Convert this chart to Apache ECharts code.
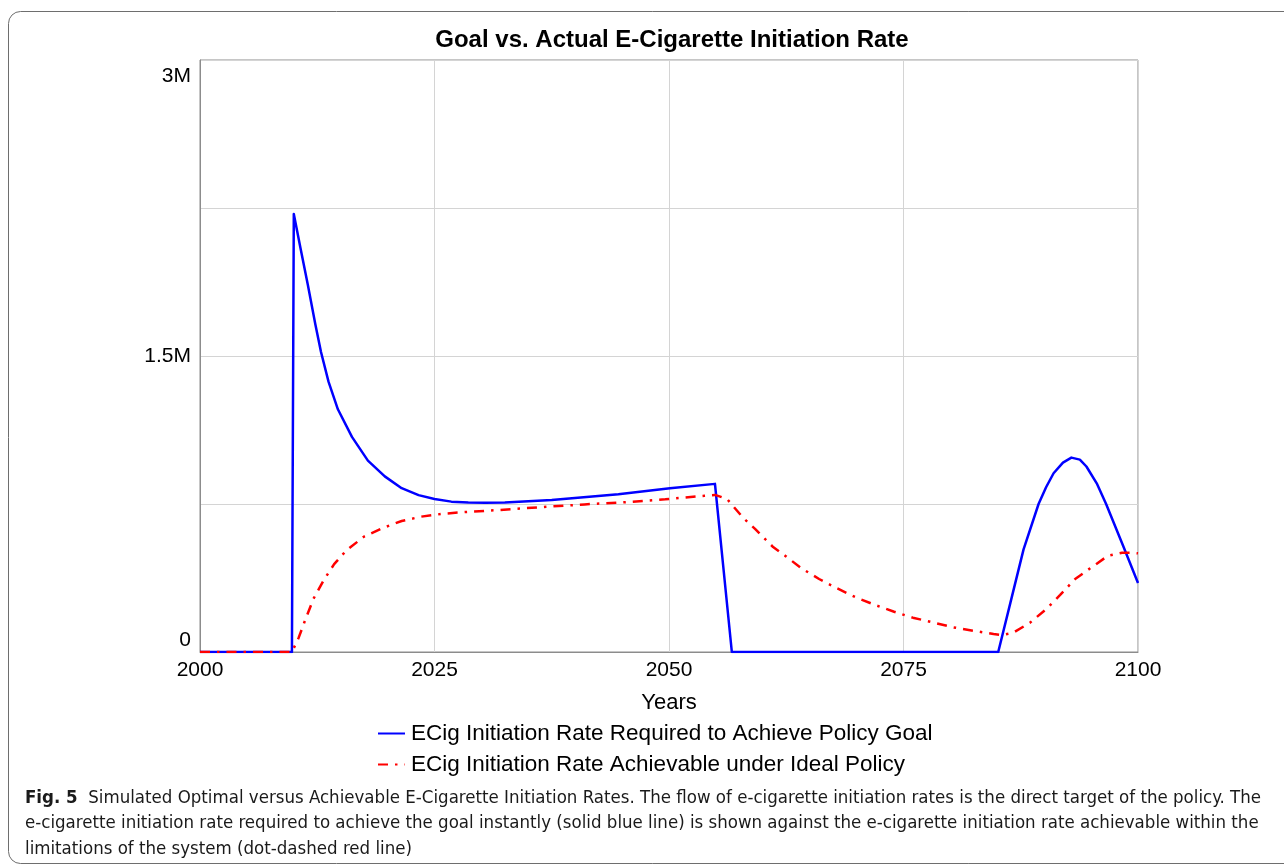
<!DOCTYPE html>
<html>
<head>
<meta charset="utf-8">
<script src="https://cdn.jsdelivr.net/npm/echarts@6/dist/echarts.min.js"></script>
<style>
  html, body { margin: 0; padding: 0; background: #fff; }
  #chart { width: 1284px; height: 868px; }
</style>
</head>
<body>
<div id="chart"></div>
<script>
// values (years, millions)
const goalYears = [2000, 2009.8, 2010, 2010.7, 2011.5, 2012.3, 2012.9, 2013.7, 2014.7, 2016.2, 2017.9, 2019.7, 2021.5, 2023.3, 2025, 2026.8, 2028.6, 2030.4, 2032.5, 2037.5, 2044.6, 2050.1, 2054.9, 2056.7, 2085.1, 2086.4, 2087.8, 2089.4, 2090.2, 2091, 2092, 2092.9, 2093.8, 2094.5, 2095.6, 2096.6, 2098.4, 2100];
const goalValues = [0, 0, 2.22, 2.05, 1.86, 1.66, 1.52, 1.37, 1.23, 1.09, 0.97, 0.89, 0.83, 0.795, 0.775, 0.762, 0.757, 0.756, 0.757, 0.77, 0.8, 0.83, 0.852, 0, 0, 0.25, 0.52, 0.75, 0.835, 0.906, 0.96, 0.985, 0.975, 0.94, 0.855, 0.75, 0.54, 0.35];

const idealYears = [2000, 2009.8, 2010.5, 2011.2, 2012.1, 2013.2, 2014.3, 2015.6, 2017.5, 2019.4, 2021.5, 2023.6, 2025.8, 2027.9, 2032, 2036, 2041, 2045.3, 2049.6, 2053.8, 2054.9, 2056.2, 2057.9, 2059.2, 2061.1, 2062.4, 2064.1, 2066, 2067.9, 2069.9, 2072, 2074, 2076, 2078.2, 2080.3, 2082.4, 2084.6, 2085.5, 2086.7, 2088.5, 2090.3, 2091.7, 2093.3, 2094.9, 2096.8, 2098.3, 2099.5, 2100];
const idealValues = [0, 0, 0.07, 0.16, 0.27, 0.365, 0.445, 0.515, 0.585, 0.627, 0.664, 0.686, 0.7, 0.708, 0.72, 0.733, 0.748, 0.759, 0.774, 0.792, 0.796, 0.775, 0.68, 0.623, 0.532, 0.487, 0.425, 0.37, 0.323, 0.277, 0.238, 0.204, 0.174, 0.149, 0.125, 0.108, 0.091, 0.086, 0.098, 0.149, 0.221, 0.289, 0.37, 0.424, 0.488, 0.503, 0.503, 0.5];

const yTickLabels = { 0: "0", 1500000: "1.5M", 3000000: "3M" };
const seriesNames = ["ECig Initiation Rate Required to Achieve Policy Goal", "ECig Initiation Rate Achievable under Ideal Policy"];

const toPairs = (xs, ys) => xs.map((x, i) => [x, ys[i] * 1e6]);

const font = "'Liberation Sans', Arial, sans-serif";
const capFont = "'DejaVu Sans Condensed', 'Liberation Sans', sans-serif";

const chart = echarts.init(document.getElementById("chart"));
chart.setOption({
  backgroundColor: "#fff",
  animation: false,
  title: {
    text: "Goal vs. Actual E-Cigarette Initiation Rate",
    left: 667,
    top: 23,
    textAlign: "center",
    textStyle: { fontFamily: font, fontSize: 24, fontWeight: "bold", color: "#000" }
  },
  grid: {
    left: 200,
    right: 146,
    top: 60,
    bottom: 216,
    show: true,
    borderColor: "#8c8c8c",
    borderWidth: 1
  },
  legend: {
    orient: "vertical",
    left: 377,
    top: 722,
    padding: 0,
    itemWidth: 27,
    itemHeight: 14,
    itemGap: 8,
    data: seriesNames,
    itemStyle: { opacity: 0 },
    textStyle: { fontFamily: font, fontSize: 22.5, color: "#000", padding: [0, 0, 0, 1] }
  },
  xAxis: {
    type: "value",
    min: 2000,
    max: 2100,
    interval: 25,
    name: "Years",
    nameLocation: "middle",
    nameGap: 40,
    nameTextStyle: { fontFamily: font, fontSize: 22, color: "#000" },
    axisLine: { show: true, lineStyle: { color: "#8c8c8c" } },
    axisTick: { show: false },
    axisLabel: {
      fontFamily: font,
      fontSize: 21,
      color: "#000",
      margin: 8,
      formatter: v => String(v)
    },
    splitLine: { show: true, lineStyle: { color: "#d4d4d4", width: 1 } }
  },
  yAxis: {
    type: "value",
    min: 0,
    max: 3000000,
    interval: 750000,
    axisLine: { show: true, lineStyle: { color: "#8c8c8c" } },
    axisTick: { show: false },
    axisLabel: {
      fontFamily: font,
      fontSize: 21,
      color: "#000",
      margin: 9,
      formatter: v => {
        if (v === 3000000) return "{top|3M}";
        if (v === 0) return "{bot|0}";
        return yTickLabels[v] || "";
      },
      rich: {
        top: { fontFamily: font, fontSize: 21, color: "#000", padding: [32, 0, 0, 0] },
        bot: { fontFamily: font, fontSize: 21, color: "#000", padding: [0, 0, 24, 0] }
      }
    },
    splitLine: { show: true, lineStyle: { color: "#d4d4d4", width: 1 } }
  },
  series: [
    {
      name: seriesNames[0],
      type: "line",
      data: toPairs(goalYears, goalValues),
      showSymbol: false,
      symbol: "none",
      z: 3,
      lineStyle: { color: "#0000ff", width: 2.5, join: "round" },
      itemStyle: { color: "#0000ff" }
    },
    {
      name: seriesNames[1],
      type: "line",
      data: toPairs(idealYears, idealValues),
      showSymbol: false,
      symbol: "none",
      z: 4,
      lineStyle: { color: "#ff0000", width: 2.5, type: [10, 7, 2.5, 7] },
      itemStyle: { color: "#ff0000" }
    }
  ],
  graphic: [
    {
      type: "rect",
      shape: { x: 8.5, y: 11.5, width: 1300, height: 852, r: 12 },
      style: { fill: null, stroke: "#6e6e6e", lineWidth: 1 },
      silent: true
    },
    {
      type: "text",
      left: 25,
      top: 789,
      style: {
        text: "{b|Fig. 5}  Simulated Optimal versus Achievable E-Cigarette Initiation Rates. The flow of e-cigarette initiation rates is the direct target of the policy. The",
        rich: {
          b: { fontFamily: capFont, fontSize: 18.5, fontWeight: "bold", fill: "#1a1a1a" }
        },
        font: "18.5px " + capFont,
        fill: "#1a1a1a"
      }
    },
    {
      type: "text",
      left: 25,
      top: 814,
      style: {
        text: "e-cigarette initiation rate required to achieve the goal instantly (solid blue line) is shown against the e-cigarette initiation rate achievable within the",
        font: "18.5px " + capFont,
        fill: "#1a1a1a"
      }
    },
    {
      type: "text",
      left: 25,
      top: 840,
      style: {
        text: "limitations of the system (dot-dashed red line)",
        font: "18.5px " + capFont,
        fill: "#1a1a1a"
      }
    }
  ]
});
</script>
</body>
</html>
